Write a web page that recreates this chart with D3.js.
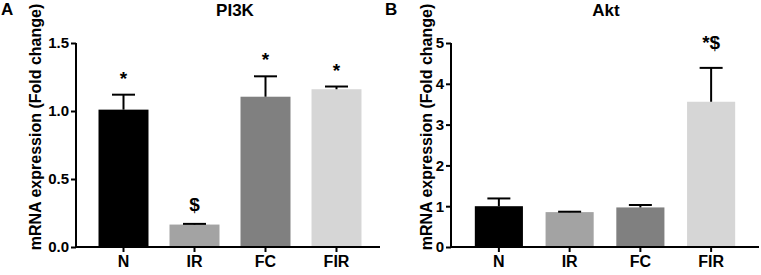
<!DOCTYPE html>
<html>
<head>
<meta charset="utf-8">
<script src="https://cdn.jsdelivr.net/npm/d3@7"></script>
<style>
  html, body { margin: 0; padding: 0; background: #fff; }
  svg { display: block; font-family: "Liberation Sans", Arial, sans-serif; font-weight: bold; }
</style>
</head>
<body>
<svg id="chart" width="761" height="275"></svg>
<script>
// ---- data ----
const categories = ["N", "IR", "FC", "FIR"];
const barColors = ["#000000", "#a3a3a3", "#808080", "#d6d6d6"];

const pi3kMeans = [1.01, 0.165, 1.105, 1.16];
const pi3kErrors = [0.11, 0.005, 0.15, 0.02];
const pi3kMarks = ["*", "$", "*", "*"];
const pi3kTicks = [0, 0.5, 1.0, 1.5];

const aktMeans = [1.0, 0.855, 0.97, 3.56];
const aktErrors = [0.19, 0.01, 0.06, 0.83];
const aktMarks = ["", "", "", "*$"];
const aktTicks = [0, 1, 2, 3, 4, 5];

const panels = [
  { letter: "A", title: "PI3K", means: pi3kMeans, errors: pi3kErrors, marks: pi3kMarks,
    ticks: pi3kTicks, max: 1.5, fmt: d3.format(".1f"),
    axisX: 76, axisEnd: 380, band: [88, 372], pad: 0.296, labelX: 35, letterX: 1, titleX: 235 },
  { letter: "B", title: "Akt", means: aktMeans, errors: aktErrors, marks: aktMarks,
    ticks: aktTicks, max: 5, fmt: d3.format("d"),
    axisX: 451, axisEnd: 759, band: [463.5, 746.5], pad: 0.32, labelX: 426, letterX: 385, titleX: 606 }
];

const svg = d3.select("#chart");
const yTop = 43, yBottom = 247;
const markGap = { "*": 10, "$": 13, "*$": 19 };

panels.forEach(p => {
  const g = svg.append("g");
  const x = d3.scaleBand().domain(categories).range(p.band)
    .paddingInner(p.pad).paddingOuter(p.pad / 2);
  const y = d3.scaleLinear().domain([0, p.max]).range([yBottom, yTop]);

  // bars
  g.selectAll("rect.bar").data(categories).join("rect")
    .attr("x", d => x(d))
    .attr("width", x.bandwidth())
    .attr("y", (d, i) => y(p.means[i]))
    .attr("height", (d, i) => yBottom - y(p.means[i]))
    .attr("fill", (d, i) => barColors[i]);

  // error bars (upper only)
  const capW = 23;
  categories.forEach((c, i) => {
    const cx = x(c) + x.bandwidth() / 2;
    const top = y(p.means[i] + p.errors[i]);
    g.append("line").attr("x1", cx).attr("x2", cx)
      .attr("y1", y(p.means[i])).attr("y2", top)
      .attr("stroke", "#000").attr("stroke-width", 2);
    g.append("line").attr("x1", cx - capW / 2).attr("x2", cx + capW / 2)
      .attr("y1", top).attr("y2", top)
      .attr("stroke", "#000").attr("stroke-width", 2);
    if (p.marks[i]) {
      g.append("text").attr("x", cx).attr("y", top - markGap[p.marks[i]])
        .attr("text-anchor", "middle").attr("font-size", 19).attr("fill", "#000")
        .text(p.marks[i]);
    }
  });

  // y axis
  const yAxis = d3.axisLeft(y).tickValues(p.ticks).tickFormat(p.fmt).tickSize(5).tickPadding(2);
  const ya = g.append("g").attr("transform", `translate(${p.axisX},0)`).call(yAxis);
  ya.select(".domain").attr("stroke-width", 2).attr("d", `M0,${yTop}V${yBottom + 1}`);
  ya.selectAll(".tick line").attr("stroke-width", 2);
  ya.selectAll(".tick text").attr("font-size", 15).attr("font-weight", "bold")
    .attr("font-family", "Liberation Sans, Arial, sans-serif").attr("fill", "#000");

  // x axis
  const xAxis = d3.axisBottom(x).tickSize(5).tickPadding(4);
  const xa = g.append("g").attr("transform", `translate(0,${yBottom})`).call(xAxis);
  xa.select(".domain").attr("stroke-width", 2).attr("d", `M${p.axisX - 1},0H${p.axisEnd}`);
  xa.selectAll(".tick line").attr("stroke-width", 2);
  xa.selectAll(".tick text").attr("font-size", 16).attr("font-weight", "bold")
    .attr("font-family", "Liberation Sans, Arial, sans-serif").attr("fill", "#000");

  // y label
  g.append("text")
    .attr("transform", `translate(${p.labelX + 6},127) rotate(-90)`)
    .attr("text-anchor", "middle").attr("font-size", 16).attr("fill", "#000")
    .text("mRNA expression (Fold change)");

  // title and panel letter
  g.append("text").attr("x", p.titleX).attr("y", 16).attr("text-anchor", "middle")
    .attr("font-size", 17).attr("fill", "#000").text(p.title);
  g.append("text").attr("x", p.letterX).attr("y", 15)
    .attr("font-size", 17).attr("fill", "#000").text(p.letter);
});
</script>
</body>
</html>
